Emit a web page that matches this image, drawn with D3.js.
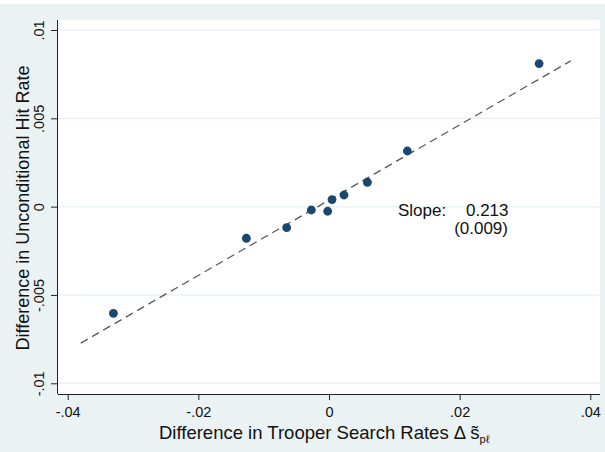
<!DOCTYPE html>
<html>
<head>
<meta charset="utf-8">
<script src="https://cdn.jsdelivr.net/npm/d3@7"></script>
<style>
  html, body { margin: 0; padding: 0; background: #ffffff; }
  svg { display: block; font-family: "Liberation Sans", Arial, Helvetica, sans-serif; }
</style>
</head>
<body>
<div id="chart"></div>
<script>
// Binned differences (x: trooper search rate, y: unconditional hit rate)
const searchDiff = [-0.0330, -0.01265, -0.00648, -0.0027, -0.0002, 0.00046, 0.0023, 0.00588, 0.0120, 0.03216];
const hitDiff = [-0.00604, -0.00179, -0.00119, -0.00019, -0.00026, 0.00040, 0.00066, 0.00138, 0.00315, 0.00810];

// Fitted line
const fitRange = [-0.038, 0.037];
const fitSlope = 0.213;
const fitIntercept = 0.00037;

const xTicks = [-0.04, -0.02, 0, 0.02, 0.04];
const yTicks = [-0.01, -0.005, 0, 0.005, 0.01];
const xTickLabels = ['-.04', '-.02', '0', '.02', '.04'];
const yTickLabels = ['-.01', '-.005', '0', '.005', '.01'];

const width = 605, height = 452;
const plot = {left: 58, right: 600, top: 20, bottom: 394};

const svg = d3.select('#chart').append('svg')
    .attr('width', width)
    .attr('height', height);

// background
svg.append('rect')
    .attr('x', 0).attr('y', 4)
    .attr('width', width).attr('height', height - 4)
    .attr('fill', '#eaf2f3');

svg.append('rect')
    .attr('x', plot.left).attr('y', plot.top)
    .attr('width', plot.right - plot.left).attr('height', plot.bottom - plot.top)
    .attr('fill', '#ffffff');

const x = d3.scaleLinear().domain([-0.04, 0.04]).range([67.7, 590.3]);
const y = d3.scaleLinear().domain([-0.01, 0.01]).range([383.3, 30]);

// grid lines
svg.append('g')
    .selectAll('line')
    .data(yTicks)
    .enter()
    .append('line')
    .attr('x1', plot.left)
    .attr('x2', plot.right)
    .attr('y1', d => y(d))
    .attr('y2', d => y(d))
    .attr('stroke', '#eaf2f3')
    .attr('stroke-width', 1.5);

// fit line
const fitData = fitRange.map(v => ({x: v, y: fitIntercept + fitSlope * v}));
svg.append('path')
    .datum(fitData)
    .attr('d', d3.line().x(d => x(d.x)).y(d => y(d.y)))
    .attr('fill', 'none')
    .attr('stroke', '#595959')
    .attr('stroke-width', 1.3)
    .attr('stroke-dasharray', '8,5');

// points
svg.append('g')
    .selectAll('circle')
    .data(searchDiff.map((v, i) => ({x: v, y: hitDiff[i]})))
    .enter()
    .append('circle')
    .attr('cx', d => x(d.x))
    .attr('cy', d => y(d.y))
    .attr('r', 4.4)
    .attr('fill', '#1a476f');

// axes
const xAxis = d3.axisBottom(x)
    .tickValues(xTicks)
    .tickSize(6)
    .tickPadding(7)
    .tickFormat((d, i) => xTickLabels[i]);

const xg = svg.append('g')
    .attr('transform', `translate(0,${plot.bottom})`)
    .call(xAxis);
xg.select('.domain').attr('d', `M${plot.left},0.5H${plot.right}`).attr('stroke', '#222');
xg.selectAll('.tick line').attr('stroke', '#222');
xg.selectAll('.tick text')
    .style('font-size', '14.5px')
    .attr('fill', '#111')
    .attr('font-family', '"Liberation Sans", Arial, sans-serif');

const yAxis = d3.axisLeft(y)
    .tickValues(yTicks)
    .tickSize(7)
    .tickPadding(4)
    .tickFormat((d, i) => yTickLabels[i]);

const yg = svg.append('g')
    .attr('transform', `translate(${plot.left},0)`)
    .call(yAxis);
yg.select('.domain').attr('d', `M-0.5,${plot.top}V${plot.bottom}`).attr('stroke', '#222');
yg.selectAll('.tick line').attr('stroke', '#222');
yg.selectAll('.tick text')
    .style('font-size', '14.5px')
    .attr('fill', '#111')
    .attr('font-family', '"Liberation Sans", Arial, sans-serif')
    .attr('x', null)
    .attr('text-anchor', 'middle')
    .attr('transform', 'translate(-19.5,0) rotate(-90)')
    .attr('y', 0)
    .attr('dy', '0.35em');

// axis titles
svg.append('text')
    .attr('transform', `translate(29,${(plot.top + plot.bottom) / 2 + 1}) rotate(-90)`)
    .attr('text-anchor', 'middle')
    .style('font-size', '18px')
    .attr('fill', '#111')
    .text('Difference in Unconditional Hit Rate');

const xTitle = svg.append('text')
    .attr('x', 159)
    .attr('y', 438.5)
    .style('font-size', '18.5px')
    .attr('fill', '#111');
xTitle.append('tspan').text('Difference in Trooper Search Rates Δ s\u0303');
xTitle.append('tspan')
    .attr('dy', 4)
    .style('font-size', '11px')
    .text('pℓ');

// slope annotation
const note = svg.append('g')
    .style('font-size', '17px')
    .attr('fill', '#111');
note.append('text')
    .attr('x', 398)
    .attr('y', 215.5)
    .text('Slope:');
note.append('text')
    .attr('x', 508.5)
    .attr('y', 215.5)
    .attr('text-anchor', 'end')
    .text('0.213');
note.append('text')
    .attr('x', 508)
    .attr('y', 234)
    .attr('text-anchor', 'end')
    .text('(0.009)');
</script>
</body>
</html>
